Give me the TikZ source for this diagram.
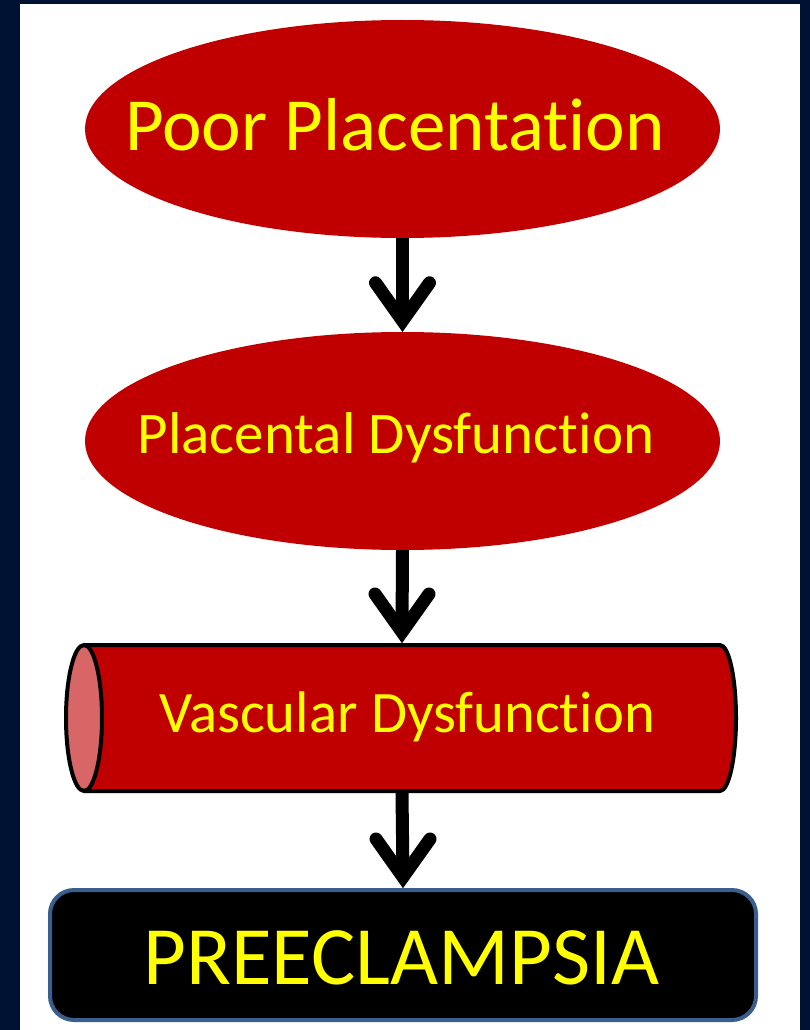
\documentclass[tikz,border=0pt]{standalone}
\usepackage{fontspec}
\setmainfont[Ligatures={NoCommon,NoRare}]{Carlito}
\usetikzlibrary{shapes.geometric,calc}
\definecolor{navy}{RGB}{0,18,51}
\definecolor{dred}{RGB}{192,0,0}
\definecolor{pinkend}{RGB}{217,102,102}
\definecolor{yel}{RGB}{255,255,0}
\definecolor{bord}{RGB}{58,95,140}
\tikzset{
  ell/.style={ellipse, fill=dred, minimum width=635pt, minimum height=218pt, inner sep=0pt},
  lbl/.style={text=yel, anchor=base, inner sep=0pt},
  arr/.style={line width=13pt, draw=black},
  arrhead/.style={line width=13pt, draw=black, line cap=round, line join=miter},
  prebox/.style={rectangle, rounded corners=24pt, fill=black, draw=bord, line width=4pt,
    minimum width=706pt, minimum height=130pt, inner sep=0pt},
  cylbox/.style={rectangle, minimum width=672pt, minimum height=150pt, inner sep=0pt, outer sep=0pt}
}
\begin{document}
\begin{tikzpicture}[x=1pt,y=-1pt]
\useasboundingbox (0,0) rectangle (810,1030);
\fill[navy] (0,0) rectangle (810,1030);
\fill[white] (20,4) rectangle (800,1030);
% shapes
\node[ell] (e1) at (402.5,129) {};
\node[ell] (e2) at (402.5,441) {};
\node[cylbox] (cyl) at (402,718) {};
\fill[dred] (84,645) -- (720,645) arc[start angle=90, end angle=-90, x radius=16pt, y radius=73pt] -- (84,791) -- cycle;
\draw[line width=4pt, line join=round] (84,645) -- (720,645) arc[start angle=90, end angle=-90, x radius=16pt, y radius=73pt] -- (84,791);
\draw[line width=4pt, fill=pinkend] (84,718) ellipse[x radius=18pt, y radius=73pt];
\node[prebox] (pre) at (403,955) {};
% texts
\node[lbl] (t1) at (395,150) {\fontsize{75}{80}\selectfont Poor Placentation};
\node[lbl] (t2) at (396,453) {\fontsize{59}{64}\selectfont Placental Dysfunction};
\node[lbl] (t3) at (407,732) {\fontsize{58.7}{64}\selectfont Vascular Dysfunction};
\node[lbl] (t4) at (401.5,984) {\fontsize{83}{88}\selectfont PREECLAMPSIA};
% arrows
\coordinate (v1) at ($(e2.north)+(0,-11)$);
\coordinate (v2) at ($(cyl.north)+(0,-11)$);
\coordinate (v3) at ($(pre.north)+(0,-11)$);
\draw[arr] (e1.south) -- (v1);
\draw[arrhead] ($(v1)+(-27,-38)$) -- (v1) -- ($(v1)+(27,-38)$);
\draw[arr] (e2.south) -- (v2);
\draw[arrhead] ($(v2)+(-27,-38)$) -- (v2) -- ($(v2)+(27,-38)$);
\draw[arr] (cyl.south) -- (v3);
\draw[arrhead] ($(v3)+(-27,-38)$) -- (v3) -- ($(v3)+(27,-38)$);
\end{tikzpicture}
\end{document}
